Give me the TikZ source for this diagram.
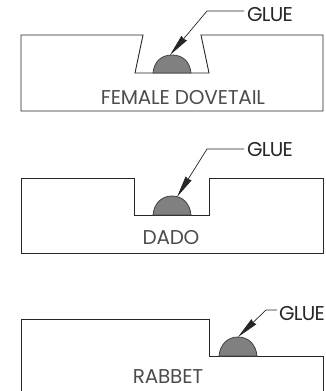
\documentclass[tikz,border=0pt]{standalone}
\usepackage{fontspec}
\setmainfont{Poppins}
\newfontfamily\gluefont[LetterSpace=-4]{Poppins}
\usetikzlibrary{arrows.meta}
\tikzset{
    part/.style={draw=black!85, line width=0.9pt, line join=miter},
    glue/.style={draw=black!75, fill=black!50, line width=0.8pt},
    leader/.style={draw=black!85, line width=0.7pt, {Stealth[length=22pt, width=7pt, inset=1pt]}-},
    caption/.style={inner sep=0pt, anchor=base, font=\fontsize{20}{24}\selectfont\addfontfeature{LetterSpace=-1}, text=black!70},
    gluetext/.style={inner sep=0pt, anchor=base west, font=\gluefont\fontsize{20}{24}\selectfont, text=black!85}
}
\begin{document}
\begin{tikzpicture}[x=1pt, y=-1pt]
    \useasboundingbox (0, 0) rectangle (325, 391);

    % female dovetail
    \draw[part] (21, 35) -- (143, 35) -- (135, 73) -- (209, 73) -- (201, 35) -- (323, 35) -- (323, 111) -- (21, 111) -- cycle;
    \draw[glue] (153, 73) .. controls (154, 62) and (161, 55) .. (172, 55) .. controls (183, 55) and (190, 62) .. (191, 73) -- cycle;
    \node[caption] (dovetail) at (183, 104) {FEMALE DOVETAIL};
    \node[gluetext] (glue1) at (247, 21.5) {GLUE};
    \coordinate (tip1) at (170, 55);
    \coordinate (bend1) at (207, 11);
    \draw[leader] (tip1) -- (bend1) -- (244, 11);

    % dado
    \draw[part] (21, 178) -- (134, 178) -- (134, 215) -- (209, 215) -- (209, 178) -- (323, 178) -- (323, 253) -- (21, 253) -- cycle;
    \draw[glue] (153, 215) .. controls (154, 204) and (161, 196) .. (172, 196) .. controls (183, 196) and (190, 204) .. (191, 215) -- cycle;
    \node[caption] (dado) at (171, 244.5) {DADO};
    \node[gluetext] (glue2) at (247, 156) {GLUE};
    \coordinate (tip2) at (177, 197);
    \coordinate (bend2) at (207, 149);
    \draw[leader] (tip2) -- (bend2) -- (244, 149);

    % rabbet
    \draw[part] (21, 391) -- (21, 319) -- (209, 319) -- (209, 356) -- (323, 356) -- (323, 391);
    \draw[glue] (219, 356) .. controls (220, 345) and (227, 337) .. (238, 337) .. controls (249, 337) and (256, 345) .. (257, 356) -- cycle;
    \node[caption] (rabbet) at (168, 383.5) {RABBET};
    \node[gluetext] (glue3) at (279, 320) {GLUE};
    \coordinate (tip3) at (238, 337);
    \coordinate (bend3) at (266, 310);
    \draw[leader] (tip3) -- (bend3) -- (277, 310);
\end{tikzpicture}
\end{document}
